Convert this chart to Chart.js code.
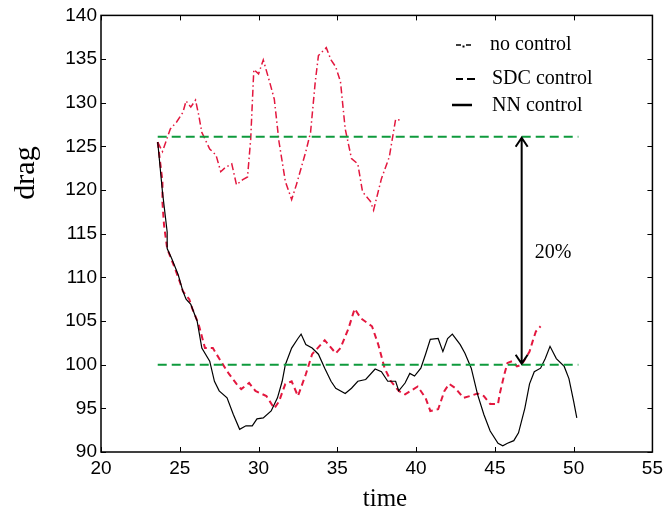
<!DOCTYPE html>
<html lang="en">
<head>
  <meta charset="UTF-8">
  <title>drag vs time</title>
  <script src="https://cdn.jsdelivr.net/npm/chart.js"></script>
  <style>
    html, body { margin: 0; padding: 0; background: #fff; }
    canvas { display: block; }
  </style>
</head>
<body>
  <canvas id="chart" width="668" height="511"></canvas>

  <script>
    // no control (dash-dot)
    const noCtrlT = [23.6,23.9,24.4,24.8,25.2,25.4,25.7,26.0,26.2,26.4,26.9,27.3,27.6,27.9,28.3,28.6,29.0,29.3,29.5,29.7,30.0,30.3,30.7,31.0,31.3,31.7,32.1,32.4,33.0,33.3,33.6,33.8,34.3,34.6,34.9,35.2,35.5,35.9,36.3,36.6,37.1,37.3,37.8,38.3,38.7,39.0];
    const noCtrlY = [125.5,124.4,127.0,127.8,128.9,130.2,129.5,130.3,128.6,126.6,124.7,124.0,122.1,122.6,123.0,120.6,121.2,121.5,125.8,133.8,133.3,134.9,132.4,130.4,125.5,121.0,118.9,120.6,124.4,126.6,132.4,135.4,136.3,134.9,134.1,132.4,127.0,123.6,123.0,119.8,118.7,117.7,121.3,123.8,128.1,128.0];

    // SDC control (dashed)
    const sdcT = [23.6,23.9,23.9,24.0,24.2,24.7,25.0,25.2,25.6,25.8,26.2,26.6,27.1,27.5,28.1,28.6,28.9,29.4,29.8,30.5,31.0,31.3,31.7,32.1,32.5,33.0,33.4,34.2,34.9,35.2,35.7,36.1,36.5,37.2,37.6,38.0,38.4,38.9,39.3,40.1,40.6,40.9,41.4,41.8,42.1,42.5,43.0,43.4,43.9,44.3,44.7,45.2,45.3,45.6,45.8,46.1,46.4,46.7,47.2,47.4,47.6,47.9];
    const sdcY = [125.5,121.0,118.6,116.0,113.3,111.0,109.5,108.4,107.5,106.4,104.6,101.9,101.9,100.7,99.0,97.8,97.2,97.9,97.0,96.4,95.0,95.8,97.8,98.1,96.4,98.9,101.2,102.8,101.3,101.9,104.1,106.4,105.3,104.4,102.3,99.6,98.1,97.0,96.6,97.5,96.2,94.7,94.9,97.0,97.8,97.3,96.2,96.4,96.7,96.4,95.5,95.5,96.6,98.9,100.2,100.4,99.8,100.0,101.5,102.7,103.8,104.4];

    // NN control (solid)
    const nnT = [23.6,23.9,24.2,24.2,24.5,24.9,25.2,25.4,25.7,26.1,26.4,26.9,27.2,27.5,28.0,28.4,28.8,29.2,29.6,29.9,30.3,30.8,31.2,31.5,31.7,32.1,32.5,32.7,33.0,33.4,33.8,34.2,34.6,34.9,35.5,35.9,36.3,36.8,37.4,37.8,38.2,38.7,38.9,39.3,39.6,39.9,40.3,40.6,40.9,41.4,41.7,42.0,42.3,42.8,43.1,43.5,43.9,44.3,44.7,45.2,45.5,45.8,46.2,46.5,46.9,47.2,47.5,47.9,48.2,48.5,48.9,49.4,49.7,50.0,50.2];
    const nnY = [125.5,119.8,115.2,113.3,112.1,110.3,108.4,107.5,106.9,105.0,101.9,100.4,98.1,97.0,96.2,94.3,92.6,93.0,93.0,93.8,93.9,94.7,96.2,98.1,100.0,101.9,103.0,103.5,102.3,101.9,101.2,99.6,98.1,97.3,96.7,97.3,98.1,98.3,99.5,99.2,98.1,98.1,97.0,97.9,99.0,98.7,99.6,101.2,102.9,103.0,101.5,103.0,103.5,102.3,101.3,99.6,96.6,94.3,92.4,91.0,90.7,91.0,91.3,92.2,95.0,97.8,99.2,99.6,100.7,102.1,100.7,99.8,98.4,95.8,93.9];

    // reference levels and 20% arrow
    const refT = [23.6, 50.3];
    const refHigh = 126.1;
    const refLow = 100;
    const arrowT = 46.7;
    const arrowLabel = '20%';
    const arrowLabelAt = [48.7, 112.8];

    const xTicks = [20, 25, 30, 35, 40, 45, 50, 55];
    const yTicks = [90, 95, 100, 105, 110, 115, 120, 125, 130, 135, 140];

    const legendItems = ['no control', 'SDC control', 'NN control'];

    const pts = (xs, ys) => xs.map((x, i) => ({ x: x, y: ys[i] }));
    const flat = (xs, v) => xs.map(x => ({ x: x, y: v }));

    const RED = '#e3173e';
    const GREEN = '#0e9a3c';

    const extras = {
      id: 'extras',
      afterDraw(chart) {
        const ctx = chart.ctx;
        const a = chart.chartArea;
        const xs = chart.scales.x, ys = chart.scales.y;
        ctx.save();

        // box
        ctx.strokeStyle = '#000';
        ctx.lineWidth = 1.5;
        ctx.strokeRect(a.left, a.top, a.right - a.left, a.bottom - a.top);

        // inward ticks on all sides
        ctx.lineWidth = 1;
        const tl = 5;
        xTicks.forEach(v => {
          const px = Math.round(xs.getPixelForValue(v)) + 0.5;
          ctx.beginPath();
          ctx.moveTo(px, a.bottom); ctx.lineTo(px, a.bottom - tl);
          ctx.moveTo(px, a.top); ctx.lineTo(px, a.top + tl);
          ctx.stroke();
        });
        yTicks.forEach(v => {
          const py = Math.round(ys.getPixelForValue(v)) + 0.5;
          ctx.beginPath();
          ctx.moveTo(a.left, py); ctx.lineTo(a.left + tl, py);
          ctx.moveTo(a.right, py); ctx.lineTo(a.right - tl, py);
          ctx.stroke();
        });

        // double arrow
        const ax = xs.getPixelForValue(arrowT);
        const y1 = ys.getPixelForValue(refHigh);
        const y2 = ys.getPixelForValue(refLow);
        ctx.lineWidth = 2;
        ctx.beginPath();
        ctx.moveTo(ax, y1 + 1); ctx.lineTo(ax, y2 - 1);
        ctx.moveTo(ax - 6, y1 + 10); ctx.lineTo(ax, y1 + 1); ctx.lineTo(ax + 6, y1 + 10);
        ctx.moveTo(ax - 6, y2 - 10); ctx.lineTo(ax, y2 - 1); ctx.lineTo(ax + 6, y2 - 10);
        ctx.stroke();

        // 20% label
        ctx.fillStyle = '#000';
        ctx.font = '20px "Liberation Serif", "Times New Roman", serif';
        ctx.textAlign = 'center';
        ctx.textBaseline = 'middle';
        ctx.fillText(arrowLabel, xs.getPixelForValue(arrowLabelAt[0]), ys.getPixelForValue(arrowLabelAt[1]));

        // legend
        ctx.textAlign = 'left';
        const rows = [45, 79, 106];
        ctx.fillText(legendItems[0], 490, rows[0]);
        ctx.fillText(legendItems[1], 492, rows[1]);
        ctx.fillText(legendItems[2], 492, rows[2]);
        ctx.lineWidth = 1.6;
        ctx.beginPath();
        ctx.moveTo(456, rows[0]); ctx.lineTo(461, rows[0]);
        ctx.moveTo(466, rows[0]); ctx.lineTo(471, rows[0]);
        ctx.stroke();
        ctx.fillRect(462.5, rows[0] + 0.5, 2, 2);
        ctx.lineWidth = 2;
        ctx.beginPath();
        ctx.moveTo(456, rows[1]); ctx.lineTo(463, rows[1]);
        ctx.moveTo(467, rows[1]); ctx.lineTo(475, rows[1]);
        ctx.stroke();
        ctx.lineWidth = 2.5;
        ctx.beginPath();
        ctx.moveTo(452, rows[2] - 1); ctx.lineTo(472, rows[2] - 1);
        ctx.stroke();

        // axis titles
        ctx.font = '25px "Liberation Serif", "Times New Roman", serif';
        ctx.textAlign = 'center';
        ctx.textBaseline = 'alphabetic';
        ctx.fillText('time', 385, 506);
        ctx.font = '30px "Liberation Serif", "Times New Roman", serif';
        ctx.textBaseline = 'middle';
        ctx.translate(26, 173);
        ctx.rotate(-Math.PI / 2);
        ctx.fillText('drag', 0, 0);

        ctx.restore();
      }
    };

    const chart = new Chart(document.getElementById('chart'), {
      type: 'scatter',
      data: {
        datasets: [
          { label: 'ref high', data: flat(refT, refHigh), borderColor: GREEN, borderWidth: 2, borderDash: [9, 5] },
          { label: 'ref low', data: flat(refT, refLow), borderColor: GREEN, borderWidth: 2, borderDash: [9, 5] },
          { label: 'NN control', data: pts(nnT, nnY), borderColor: '#000', borderWidth: 1.2 },
          { label: 'no control', data: pts(noCtrlT, noCtrlY), borderColor: RED, borderWidth: 1.5, borderDash: [7, 3, 1.5, 3] },
          { label: 'SDC control', data: pts(sdcT, sdcY), borderColor: RED, borderWidth: 2, borderDash: [6, 4] }
        ].map(d => Object.assign({ showLine: true, pointRadius: 0, fill: false, tension: 0 }, d))
      },
      options: {
        responsive: false,
        animation: false,
        devicePixelRatio: 1,
        layout: { padding: { top: 13, right: 12, left: 0, bottom: 0 } },
        plugins: { legend: { display: false }, tooltip: { enabled: false } },
        scales: {
          x: {
            type: 'linear', min: 20, max: 55,
            grid: { display: false, drawTicks: false },
            border: { display: false },
            afterBuildTicks: s => { s.ticks = xTicks.map(v => ({ value: v })); },
            afterFit: s => { s.height = 59; },
            ticks: { color: '#000', padding: 5, maxRotation: 0, font: { family: 'Liberation Sans', size: 19 } }
          },
          y: {
            type: 'linear', min: 90, max: 140,
            grid: { display: false, drawTicks: false },
            border: { display: false },
            afterBuildTicks: s => { s.ticks = yTicks.map(v => ({ value: v })); },
            afterFit: s => { s.width = 101; },
            ticks: { color: '#000', padding: 4, font: { family: 'Liberation Sans', size: 19 } }
          }
        }
      },
      plugins: [extras]
    });
  </script>
</body>
</html>
